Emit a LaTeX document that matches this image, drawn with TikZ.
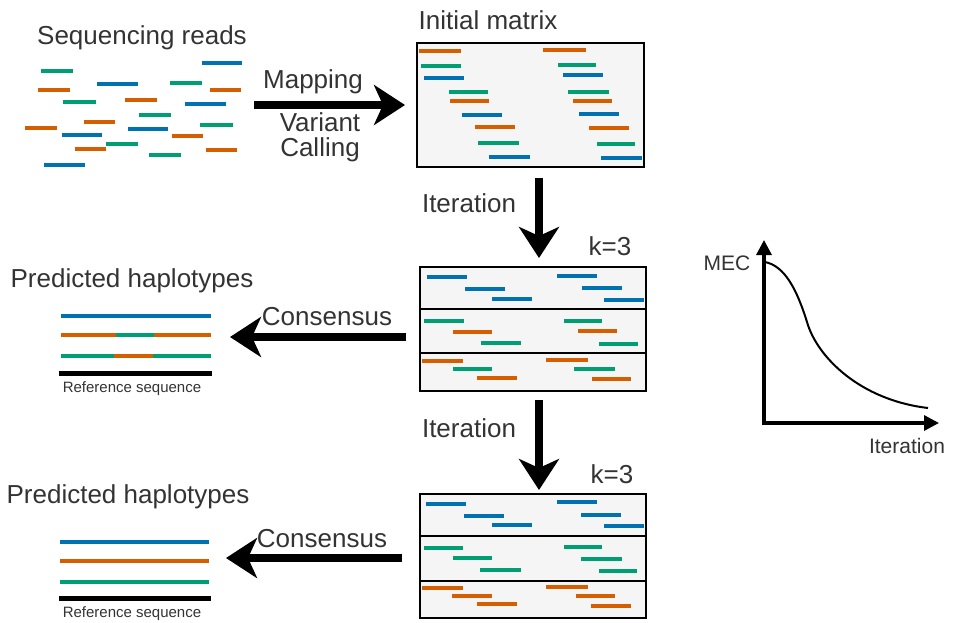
\documentclass[tikz,border=0pt]{standalone}
\usepackage{fontspec}
\setmainfont{Liberation Sans}
\usetikzlibrary{arrows.meta}
\definecolor{rblue}{HTML}{0072B2}
\definecolor{rorange}{HTML}{D55E00}
\definecolor{rgreen}{HTML}{009E73}
\definecolor{ink}{HTML}{333333}
\definecolor{panel}{HTML}{F5F5F5}

\begin{document}
\begin{tikzpicture}[x=1pt,y=-1pt,
  lbl/.style={font=\fontsize{26}{30}\selectfont, text=ink, inner sep=0pt, anchor=base},
  smalllbl/.style={font=\fontsize{15}{18}\selectfont, text=ink, inner sep=0pt, anchor=base},
  axislbl/.style={font=\fontsize{21}{25}\selectfont, text=ink, inner sep=0pt, anchor=base},
  bar/.style={line width=4pt},
  hap/.style={line width=4.5pt},
  refline/.style={line width=5pt, black},
  bigarrow/.style={line width=8pt, -{Stealth[length=31pt,width=40pt,inset=9pt]}},
  panelbox/.style={draw=black, line width=2.2pt, fill=panel, inner sep=0pt, anchor=north west},
  divider/.style={draw=black, line width=2.2pt},
  axis/.style={line width=3.3pt, {Triangle[length=15pt,width=15pt]}-{Triangle[length=15pt,width=15pt]}},
]
\useasboundingbox (0,0) rectangle (958,622);

% ---------- sequencing reads ----------
\node[lbl] (treads) at (142,44) {Sequencing reads};
\foreach \c/\a/\b/\y in {
  rgreen/41/73/71, rblue/202/242/63, rblue/97/138/84, rgreen/170/202/83,
  rorange/38/70/90, rorange/210/241/90, rgreen/63/96/102, rorange/125/157/100,
  rblue/185/226/104, rgreen/139/171/115, rorange/84/115/122, rorange/25/57/128,
  rblue/128/168/129, rgreen/200/233/125, rblue/62/102/135, rorange/172/203/136,
  rgreen/106/138/144, rorange/75/106/149, rorange/206/237/150, rgreen/149/181/155,
  rblue/44/85/165}
  \draw[bar,\c] (\a,\y) -- (\b,\y);

% ---------- mapping arrow ----------
\node[lbl] (tmap) at (313,88) {Mapping};
\node[font=\fontsize{26}{25}\selectfont, text=ink, inner sep=0pt, align=center,
      anchor=center] (tvarcall) at (320,137) {Variant\\Calling};
\coordinate (mapS) at (254,105);
\coordinate (mapE) at (405,105);
\draw[bigarrow] (mapS) -- (mapE);

% ---------- initial matrix ----------
\node[lbl] (tinit) at (488,29) {Initial matrix};
\node[panelbox, minimum width=227pt, minimum height=124pt] (m0) at (416,42) {};
\foreach \c/\a/\b/\y in {
  rorange/419/461/51, rgreen/421/461/66, rblue/424/464/78, rgreen/449/488/92,
  rorange/450/489/101, rblue/462/502/115, rorange/475/515/127, rgreen/478/519/143,
  rblue/489/530/157,
  rorange/543/586/50, rgreen/558/596/65, rblue/563/603/75, rgreen/568/609/92,
  rorange/573/612/101, rblue/579/619/114, rorange/589/629/128, rgreen/597/635/144,
  rblue/601/642/158}
  \draw[bar,\c] (\a,\y) -- (\b,\y);

% ---------- first iteration ----------
\node[lbl] (tit1) at (469,212) {Iteration};
\coordinate (it1S) at (539,178);
\coordinate (it1E) at (539,258);
\draw[bigarrow] (it1S) -- (it1E);

\node[lbl] (tk1) at (610,255) {k=3};
\node[panelbox, minimum width=226pt, minimum height=124pt] (m1) at (419,266) {};
\draw[divider] (419,309) -- (645,309);
\draw[divider] (419,353) -- (645,353);
\foreach \c/\a/\b/\y in {
  rblue/427/467/277, rblue/465/505/289, rblue/492/532/299,
  rblue/557/597/276, rblue/582/622/288, rblue/604/644/300,
  rgreen/424/464/321, rorange/453/492/332, rgreen/481/521/343,
  rgreen/564/602/321, rorange/578/617/331, rgreen/599/638/344,
  rorange/422/463/361, rgreen/453/492/369, rorange/477/517/378,
  rorange/546/588/360, rgreen/574/615/369, rorange/592/631/379}
  \draw[bar,\c] (\a,\y) -- (\b,\y);

% consensus 1
\node[lbl] (tcons1) at (327,325) {Consensus};
\coordinate (c1S) at (406,337);
\coordinate (c1E) at (230,337);
\draw[bigarrow] (c1S) -- (c1E);

\node[lbl] (thap1) at (132,287) {Predicted haplotypes};
\draw[hap,rblue] (61,316) -- (211,316);
\draw[hap,rorange] (61,335) -- (116,335);
\draw[hap,rgreen] (116,335) -- (154,335);
\draw[hap,rorange] (154,335) -- (211,335);
\draw[hap,rgreen] (61,356) -- (114,356);
\draw[hap,rorange] (114,356) -- (153,356);
\draw[hap,rgreen] (153,356) -- (211,356);
\draw[refline] (59,373) -- (212,373);
\node[smalllbl] (tref1) at (132,392) {Reference sequence};

% ---------- second iteration ----------
\node[lbl] (tit2) at (469,437) {Iteration};
\coordinate (it2S) at (539,400);
\coordinate (it2E) at (539,490);
\draw[bigarrow] (it2S) -- (it2E);

\node[lbl] (tk2) at (612,483) {k=3};
\node[panelbox, minimum width=226pt, minimum height=124pt] (m2) at (419,493) {};
\draw[divider] (419,536) -- (645,536);
\draw[divider] (419,581) -- (645,581);
\foreach \c/\a/\b/\y in {
  rblue/426/466/504, rblue/464/504/516, rblue/492/532/525,
  rblue/557/597/502, rblue/581/621/515, rblue/604/644/526,
  rgreen/424/463/548, rgreen/453/492/558, rgreen/480/521/570,
  rgreen/564/602/547, rgreen/581/622/559, rgreen/599/637/571,
  rorange/422/463/588, rorange/452/492/596, rorange/477/517/604,
  rorange/546/588/587, rorange/576/615/596, rorange/591/631/606}
  \draw[bar,\c] (\a,\y) -- (\b,\y);

% consensus 2
\node[lbl] (tcons2) at (322,547) {Consensus};
\coordinate (c2S) at (402,558);
\coordinate (c2E) at (226,558);
\draw[bigarrow] (c2S) -- (c2E);

\node[lbl] (thap2) at (128,503) {Predicted haplotypes};
\draw[hap,rblue] (60,542) -- (209,542);
\draw[hap,rorange] (60,561) -- (209,561);
\draw[hap,rgreen] (60,582) -- (209,582);
\draw[refline] (59,598) -- (211,598);
\node[smalllbl] (tref2) at (132,617) {Reference sequence};

% ---------- MEC curve ----------
\coordinate (ytip) at (764,240);
\coordinate (orig) at (764,423);
\coordinate (xtip) at (939,423);
\draw[axis] (ytip) -- (orig) -- (xtip);
\draw[line width=2pt, black] (765,262) .. controls (785,266) and (797,290) .. (807,322)
  .. controls (817,357) and (860,400) .. (928,408);
\node[axislbl] (tmec) at (727,270) {MEC};
\node[axislbl] (titer) at (907,453) {Iteration};
\end{tikzpicture}
\end{document}
